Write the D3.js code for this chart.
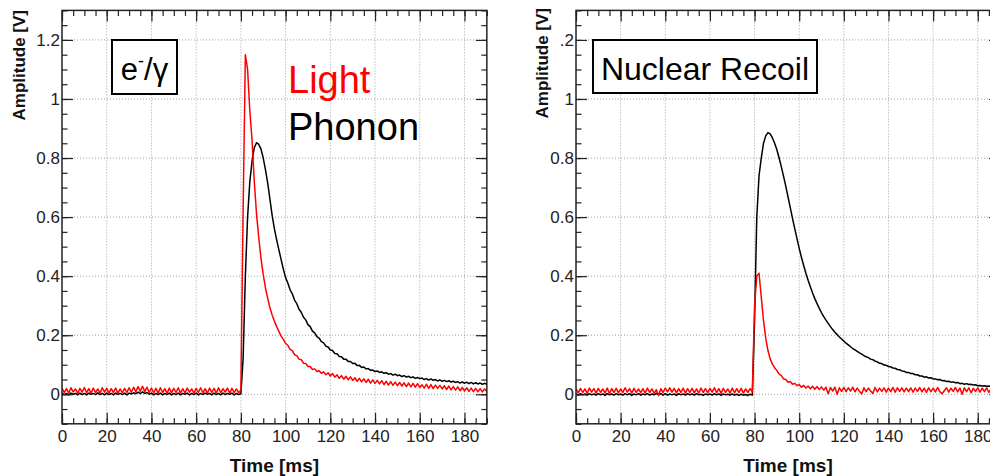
<!DOCTYPE html>
<html><head><meta charset="utf-8">
<script src="https://cdn.jsdelivr.net/npm/d3@7"></script>
<style>body{margin:0;background:#fff} svg{display:block}</style>
</head><body><svg id="chart" width="990" height="476"></svg>
<script>
// ---- data ----
const timeMs = d3.range(0, 191); // sample times [ms], 1 ms spacing

const erLight = [
0.021,0.006,0.019,0.004,0.022,0.008,0.018,0.003,0.020,0.007,
0.023,0.005,0.019,0.004,0.021,0.006,0.018,0.003,0.022,0.007,
0.020,0.004,0.019,0.006,0.021,0.003,0.018,0.005,0.020,0.006,
0.022,0.007,0.024,0.009,0.026,0.010,0.027,0.009,0.024,0.006,
0.021,0.005,0.020,0.004,0.022,0.006,0.019,0.003,0.021,0.005,
0.020,0.006,0.022,0.004,0.019,0.005,0.021,0.007,0.018,0.004,
0.020,0.006,0.022,0.005,0.019,0.003,0.021,0.006,0.020,0.004,
0.022,0.005,0.019,0.007,0.021,0.004,0.020,0.006,0.018,0.005,
0.015,
0.62,1.15,1.10,0.96,0.86,0.72,0.61,0.53,0.46,0.405,
0.36,0.325,0.293,0.268,0.247,0.229,0.213,0.197,0.186,0.172,
0.166,0.152,0.148,0.134,0.131,0.119,0.117,0.105,0.104,0.094,
0.094,0.084,0.086,0.077,0.080,0.071,0.076,0.066,0.073,0.062,
0.070,0.058,0.066,0.054,0.063,0.051,0.061,0.049,0.059,0.047,
0.056,0.044,0.054,0.042,0.052,0.040,0.051,0.038,0.049,0.037,
0.047,0.035,0.046,0.033,0.044,0.031,0.043,0.030,0.041,0.029,
0.040,0.028,0.039,0.026,0.038,0.025,0.037,0.024,0.036,0.023,
0.032,0.021,0.034,0.020,0.033,0.019,0.031,0.020,0.030,0.018,
0.029,0.016,0.028,0.015,0.026,0.014,0.025,0.012,0.023,0.011,
0.022,0.010,0.021,0.009,0.020,0.008,0.019,0.008,0.018,0.009
];

const erPhonon = [
0.004,-0.001,0.003,-0.002,0.004,0.000,0.003,-0.002,0.004,-0.001,
0.003,-0.002,0.004,0.000,0.003,-0.001,0.005,-0.001,0.003,-0.002,
0.004,-0.001,0.003,-0.002,0.004,0.000,0.003,-0.001,0.004,-0.002,
0.004,0.001,0.005,0.002,0.007,0.002,0.008,0.003,0.006,0.000,
0.004,-0.002,0.003,-0.001,0.004,-0.002,0.003,-0.001,0.004,-0.002,
0.003,-0.001,0.004,-0.002,0.003,0.000,0.004,-0.002,0.003,-0.001,
0.004,-0.002,0.003,-0.001,0.004,0.000,0.003,-0.002,0.004,-0.001,
0.003,-0.002,0.004,-0.001,0.003,0.000,0.004,-0.002,0.003,-0.001,
0.002,
0.12,0.40,0.60,0.72,0.79,0.835,0.852,0.846,0.83,0.80,
0.76,0.715,0.66,0.605,0.56,0.523,0.489,0.456,0.424,0.395,
0.377,0.354,0.340,0.319,0.307,0.288,0.278,0.261,0.252,0.236,
0.229,0.214,0.208,0.195,0.190,0.178,0.174,0.163,0.160,0.150,
0.148,0.138,0.137,0.128,0.127,0.119,0.119,0.111,0.111,0.104,
0.105,0.097,0.098,0.091,0.092,0.086,0.087,0.081,0.082,0.077,
0.079,0.074,0.076,0.071,0.073,0.068,0.070,0.065,0.068,0.063,
0.065,0.060,0.063,0.058,0.061,0.056,0.059,0.054,0.057,0.053,
0.055,0.050,0.053,0.048,0.052,0.047,0.050,0.045,0.049,0.044,
0.047,0.043,0.046,0.041,0.044,0.040,0.043,0.038,0.042,0.037,
0.041,0.036,0.040,0.035,0.039,0.035,0.038,0.034,0.037,0.034
];

const nrLight = [
0.019,0.005,0.020,0.006,0.018,0.003,0.021,0.007,0.019,0.004,
0.020,0.006,0.018,0.004,0.021,0.002,0.019,0.006,0.020,0.005,
0.018,0.006,0.022,0.007,0.019,0.004,0.020,0.006,0.018,0.005,
0.019,0.004,0.021,0.006,0.018,0.003,0.016,-0.004,0.019,0.006,
0.021,0.008,0.022,0.007,0.020,0.005,0.019,0.006,0.021,0.004,
0.019,0.006,0.020,0.005,0.018,0.004,0.021,0.006,0.019,0.005,
0.020,0.007,0.022,0.005,0.019,0.003,0.020,0.006,0.018,0.004,
0.021,0.005,0.019,0.006,0.020,0.004,0.018,0.006,0.019,0.008,
0.30,0.40,0.41,0.33,0.25,0.19,0.148,0.12,0.102,0.09,
0.080,0.068,0.063,0.052,0.050,0.041,0.043,0.034,0.037,0.029,
0.033,0.024,0.030,0.021,0.028,0.019,0.027,0.017,0.026,0.016,
0.025,0.014,0.024,0.002,0.023,0.011,0.024,0.000,0.022,0.010,
0.023,0.009,0.022,0.011,0.024,0.008,0.021,0.010,0.001,0.022,
0.009,0.021,0.011,0.003,0.023,0.008,0.021,0.010,0.022,0.007,
0.021,0.009,0.023,0.007,0.022,0.010,0.022,0.008,0.021,0.009,
0.022,0.007,0.021,0.010,0.023,0.008,0.021,0.006,0.022,0.009,
0.021,0.008,0.023,0.009,0.002,0.012,0.022,0.007,0.021,0.010,
0.023,0.008,0.021,0.000,0.022,0.009,0.022,0.005,0.020,0.010,
0.022,0.007,0.021,0.009,0.022,0.006,0.020,0.008,0.021,0.009,0.019
];

const nrPhonon = [
0.002,-0.003,0.002,-0.002,0.001,-0.003,0.002,-0.002,0.001,-0.003,
0.002,-0.002,0.001,-0.004,0.002,-0.002,0.001,-0.003,0.002,-0.002,
0.001,-0.003,0.002,-0.002,0.002,-0.004,0.001,-0.002,0.002,-0.003,
0.001,-0.002,0.002,-0.003,0.001,-0.002,0.003,-0.002,0.002,-0.003,
0.002,-0.003,0.001,-0.002,0.001,-0.004,0.002,-0.002,0.001,-0.003,
0.002,-0.002,0.001,-0.003,0.002,-0.002,0.000,-0.004,0.001,-0.002,
0.001,-0.003,0.002,-0.002,0.001,-0.004,0.001,-0.002,0.000,-0.003,
0.001,-0.003,0.000,-0.004,0.000,-0.003,-0.001,-0.004,0.000,-0.003,
0.25,0.60,0.74,0.80,0.85,0.875,0.886,0.882,0.868,0.850,
0.828,0.80,0.77,0.738,0.704,0.668,0.632,0.596,0.561,0.527,
0.494,0.464,0.436,0.410,0.386,0.364,0.343,0.324,0.307,0.291,
0.276,0.263,0.251,0.240,0.229,0.219,0.210,0.202,0.194,0.187,
0.180,0.173,0.167,0.161,0.155,0.150,0.145,0.140,0.136,0.131,
0.127,0.124,0.119,0.117,0.112,0.110,0.105,0.104,0.099,0.098,
0.094,0.093,0.089,0.088,0.084,0.083,0.079,0.078,0.074,0.074,
0.070,0.070,0.066,0.066,0.062,0.062,0.058,0.059,0.055,0.056,
0.052,0.052,0.049,0.050,0.046,0.047,0.043,0.044,0.041,0.042,
0.039,0.040,0.036,0.037,0.034,0.036,0.033,0.034,0.031,0.032,
0.029,0.030,0.028,0.029,0.027,0.028,0.025,0.027,0.024,0.026,0.024
];

const xMajorTicks = [0,20,40,60,80,100,120,140,160,180];
const yMajorTicks = [0,0.2,0.4,0.6,0.8,1,1.2];
const yLabelsLeft  = ["0","0.2","0.4","0.6","0.8","1","1.2"];
const yLabelsRight = ["0","0.2","0.4","0.6","0.8","1",".2"];
const xTitle = "Time [ms]";
const yTitle = "Amplitude [V]";

// ---- layout ----
const svg = d3.select("#chart");
const yTop = 10.4, yBot = 423.8;
const y = d3.scaleLinear().domain([-0.1, 1.3]).range([yBot, yTop]);
const xMinor = d3.range(0, 191, 5);
const yMinor = d3.range(-2, 27).map(k => k * 0.05);
const font = "'Liberation Sans', Arial, Helvetica, sans-serif";

const defs = svg.append("defs");

function panel(id, x0, x1, light, phonon, yLabels, titleX, titleTop) {
  const x = d3.scaleLinear().domain([0, 190]).range([x0, x1]);
  const g = svg.append("g");
  defs.append("clipPath").attr("id", "clip" + id)
    .append("rect").attr("x", x0).attr("y", yTop).attr("width", x1 - x0).attr("height", yBot - yTop);

  // grid
  const grid = g.append("g").attr("stroke", "#a0a0a0").attr("stroke-width", 1)
    .attr("stroke-dasharray", "1,2").attr("fill", "none");
  grid.selectAll(".gx").data(xMajorTicks.filter(d => d > 0)).join("line")
    .attr("x1", d => x(d)).attr("x2", d => x(d)).attr("y1", yTop).attr("y2", yBot);
  grid.selectAll(".gy").data(yMajorTicks).join("line")
    .attr("x1", x0).attr("x2", x1).attr("y1", d => y(d)).attr("y2", d => y(d));

  // curves
  const line = d3.line().x((d, i) => x(timeMs[i])).y(d => y(d));
  const curves = g.append("g").attr("clip-path", `url(#clip${id})`).attr("fill", "none")
    .attr("stroke-linejoin", "round");
  curves.append("path").datum(phonon).attr("d", line).attr("stroke", "#000").attr("stroke-width", 1.5);
  curves.append("path").datum(light).attr("d", line).attr("stroke", "#ff0000").attr("stroke-width", 1.5);

  // axes (inward ticks)
  const style = sel => {
    sel.select(".domain").remove();
    sel.selectAll(".tick line").attr("stroke", "#222").attr("stroke-width", 1.2);
    sel.selectAll(".tick text").attr("fill", "#222").style("font-family", font).style("font-size", "17px");
  };
  g.append("g").attr("transform", `translate(0,${yBot})`)
    .call(d3.axisBottom(x).tickValues(xMinor).tickSize(-5.5).tickFormat("")).call(style);
  g.append("g").attr("transform", `translate(0,${yBot})`)
    .call(d3.axisBottom(x).tickValues(xMajorTicks).tickSize(-11).tickPadding(6).tickFormat(d3.format("d"))).call(style);
  g.append("g").attr("transform", `translate(0,${yTop})`)
    .call(d3.axisTop(x).tickValues(xMinor).tickSize(-5.5).tickFormat("")).call(style);
  g.append("g").attr("transform", `translate(0,${yTop})`)
    .call(d3.axisTop(x).tickValues(xMajorTicks).tickSize(-11).tickFormat("")).call(style);
  g.append("g").attr("transform", `translate(${x0},0)`)
    .call(d3.axisLeft(y).tickValues(yMinor).tickSize(-5.5).tickFormat("")).call(style);
  g.append("g").attr("transform", `translate(${x0},0)`)
    .call(d3.axisLeft(y).tickValues(yMajorTicks).tickSize(-11).tickPadding(2).tickFormat((d, i) => yLabels[i])).call(style);
  g.append("g").attr("transform", `translate(${x1},0)`)
    .call(d3.axisRight(y).tickValues(yMinor).tickSize(-5.5).tickFormat("")).call(style);
  g.append("g").attr("transform", `translate(${x1},0)`)
    .call(d3.axisRight(y).tickValues(yMajorTicks).tickSize(-11).tickFormat("")).call(style);

  // frame
  g.append("rect").attr("x", x0).attr("y", yTop).attr("width", x1 - x0).attr("height", yBot - yTop)
    .attr("fill", "none").attr("stroke", "#222").attr("stroke-width", 1.5);

  // titles
  g.append("text").attr("x", (x0 + x1) / 2).attr("y", 472).attr("text-anchor", "middle")
    .style("font-family", font).style("font-size", "19px").style("font-weight", "bold").attr("fill", "#111")
    .text(xTitle);
  g.append("text").attr("transform", `translate(${titleX},${titleTop}) rotate(-90)`).attr("text-anchor", "end")
    .style("font-family", font).style("font-size", "17px").style("font-weight", "bold").attr("fill", "#111")
    .text(yTitle);
  return { g, x };
}

const L = panel("L", 62, 62 + 190 * 2.236, erLight, erPhonon, yLabelsLeft, 25, 10);
const R = panel("R", 576, 576 + 190 * 2.232, nrLight, nrPhonon, yLabelsRight, 548, 8);

// legend boxes / labels
L.g.append("rect").attr("x", 112).attr("y", 40).attr("width", 65).attr("height", 54)
  .attr("fill", "#fff").attr("stroke", "#000").attr("stroke-width", 2);
const et = L.g.append("text").attr("x", 144.5).attr("y", 80).attr("text-anchor", "middle")
  .style("font-family", font).style("font-size", "31px").attr("fill", "#000");
et.append("tspan").text("e");
et.append("tspan").attr("dy", -13).style("font-size", "18px").text("-");
et.append("tspan").attr("dy", 13).text("/γ");

L.g.append("text").attr("x", 288).attr("y", 93).style("font-family", font).style("font-size", "38px")
  .attr("fill", "#ff0000").text("Light");
L.g.append("text").attr("x", 288).attr("y", 140).style("font-family", font).style("font-size", "38px")
  .attr("fill", "#000").text("Phonon");

R.g.append("rect").attr("x", 593).attr("y", 40).attr("width", 224).attr("height", 53)
  .attr("fill", "#fff").attr("stroke", "#000").attr("stroke-width", 2);
R.g.append("text").attr("x", 705).attr("y", 80).attr("text-anchor", "middle")
  .style("font-family", font).style("font-size", "32px").attr("fill", "#000").text("Nuclear Recoil");
</script>
</body></html>
